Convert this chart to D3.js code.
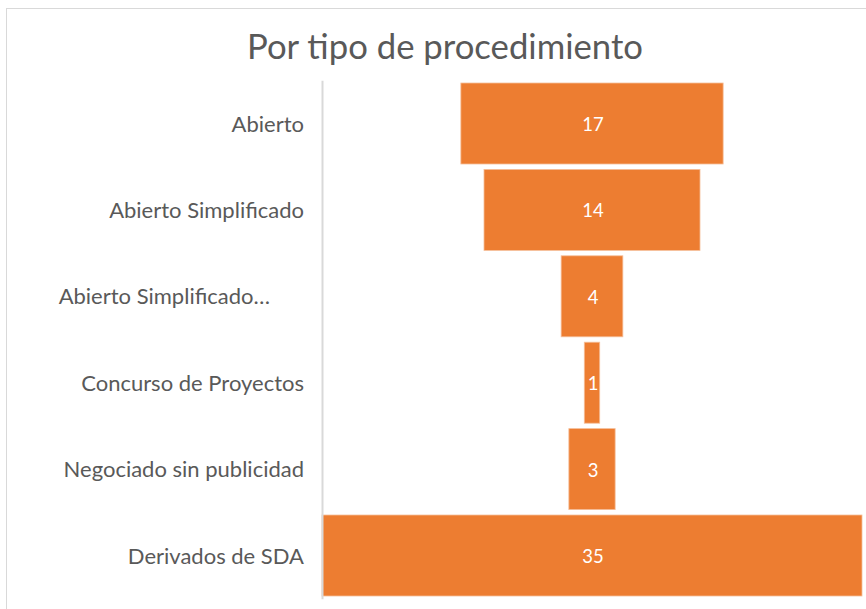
<!DOCTYPE html>
<html>
<head>
<meta charset="utf-8">
<script src="https://cdn.jsdelivr.net/npm/d3@7/dist/d3.min.js"></script>
<style>
  body { margin: 0; background: #fff; }
  svg { display: block; font-family: Lato, "Open Sans", sans-serif; }
</style>
</head>
<body>
<div id="chart"></div>
<script>
const title = "Por tipo de procedimiento"
const categories = [
  "Abierto",
  "Abierto Simplificado",
  "Abierto Simplificado…",
  "Concurso de Proyectos",
  "Negociado sin publicidad",
  "Derivados de SDA"
]
const values = [17, 14, 4, 1, 3, 35]

const width = 866
const height = 609
const plot = { left: 322, right: 862, top: 80.3, bottom: 598.7 }
const center = (plot.left + plot.right) / 2

const svg = d3.select("#chart")
  .append("svg")
  .attr("width", width)
  .attr("height", height)

// chart frame (runs past the right and bottom edge)
svg.append("rect")
  .attr("x", 6.5).attr("y", 8.5)
  .attr("width", 900).attr("height", 700)
  .attr("fill", "#fff")
  .attr("stroke", "#d9d9d9")

svg.append("text")
  .attr("x", 445)
  .attr("y", 59)
  .attr("text-anchor", "middle")
  .attr("fill", "#595959")
  .style("font-size", "34.7px")
  .text(title)

const y = d3.scaleBand()
  .domain(categories)
  .range([plot.top, plot.bottom])
  .paddingInner(0.0625)
  .paddingOuter(0.03125)

const x = d3.scaleLinear()
  .domain([0, d3.max(values)])
  .range([0, plot.right - plot.left])

const data = categories.map((c, i) => ({ name: c, value: values[i] }))

const bars = svg.append("g")
bars.selectAll("rect")
  .data(data)
  .enter()
  .append("rect")
  .attr("x", d => center - x(d.value) / 2)
  .attr("y", d => y(d.name))
  .attr("width", d => x(d.value))
  .attr("height", y.bandwidth())
  .attr("fill", "#ed7d31")
  .attr("stroke", "#f6bf9a")
  .attr("stroke-width", 0.8)

bars.selectAll("text")
  .data(data)
  .enter()
  .append("text")
  .attr("x", center + 1)
  .attr("y", d => y(d.name) + y.bandwidth() / 2 + 1)
  .attr("dy", "0.35em")
  .attr("text-anchor", "middle")
  .attr("fill", "#fff")
  .style("font-size", "18.5px")
  .text(d => d.value)

const axis = svg.append("g")
  .attr("transform", "translate(" + plot.left + ",0)")
  .call(d3.axisLeft(y).tickSize(0).tickPadding(18))

axis.select(".domain")
  .attr("stroke", "#d9d9d9")
  .attr("stroke-width", 2)
axis.selectAll(".tick text")
  .attr("fill", "#595959")
  .attr("y", 1)
  .style("font-size", "22px")
  .style("font-family", "Lato, 'Open Sans', sans-serif")
  .attr("dx", (d, i) => i === 2 ? -34 : 0)
</script>
</body>
</html>
